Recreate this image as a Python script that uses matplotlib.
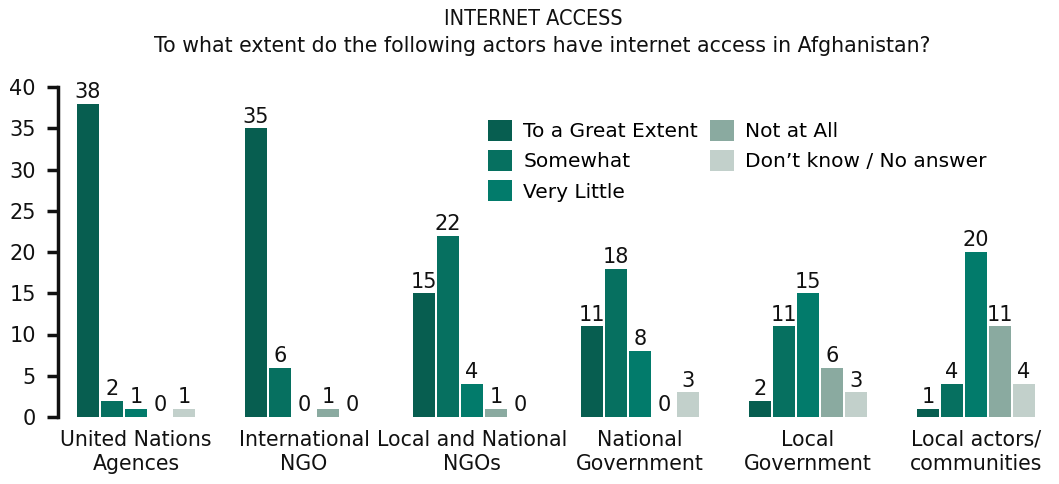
import matplotlib
matplotlib.use("Agg")
import matplotlib.pyplot as plt
import numpy as np
from matplotlib.patches import Patch

plt.rcParams['font.family'] = ['DejaVu Sans']

categories = ["United Nations\nAgences", "International\nNGO", "Local and National\nNGOs",
              "National\nGovernment", "Local\nGovernment", "Local actors/\ncommunities"]
series_names = ["To a Great Extent", "Somewhat", "Very Little", "Not at All",
                "Don\u2019t know / No answer"]
great_extent = [38, 35, 15, 11, 2, 1]
somewhat = [2, 6, 22, 18, 11, 4]
very_little = [1, 0, 4, 8, 15, 20]
not_at_all = [0, 1, 1, 0, 6, 11]
dont_know = [1, 0, 0, 3, 3, 4]
series_values = [great_extent, somewhat, very_little, not_at_all, dont_know]
colors = ["#075e50", "#067060", "#027b6b", "#8aaaa0", "#c2d0cb"]

W, H = 1059, 484
fig = plt.figure(figsize=(W / 100, H / 100), dpi=100)
ax = fig.add_axes([58 / W, (H - 417) / H, (W - 58) / W, (417 - 87) / H])

x = np.arange(len(categories))
bw = 22 / 168
step = 24 / 168
for j, (vals, col) in enumerate(zip(series_values, colors)):
    pos = x + (j - 2) * step
    ax.bar(pos, vals, width=bw, color=col, linewidth=0)
    for p, v in zip(pos, vals):
        ax.text(p, v + 0.2, str(v), ha="center", va="bottom", fontsize=15, color="#111111")

ax.set_xlim(-(136 - 58) / 168, (1059 - 136) / 168)
ax.set_ylim(0, 40)
ax.set_yticks(range(0, 45, 5))
ax.tick_params(axis="y", labelsize=15, width=2.5, length=8, pad=8, colors="#111111")
ax.tick_params(axis="x", length=0, labelsize=14.8, pad=9, colors="#111111")
ax.set_xticks(x)
ax.set_xticklabels(categories, linespacing=1.25)
for s in ["top", "right", "bottom"]:
    ax.spines[s].set_visible(False)
ax.spines["left"].set_linewidth(2.5)
ax.spines["left"].set_color("#111111")

fig.text(533 / W, 1 - 19 / H, "INTERNET ACCESS", ha="center", va="center",
         fontsize=15.5, fontstretch="condensed", color="#111111")
fig.text(542 / W, 1 - 46 / H,
         "To what extent do the following actors have internet access in Afghanistan?",
         ha="center", va="center", fontsize=14.8, color="#111111")

handles = [Patch(facecolor=c, edgecolor="none") for c in colors]
ax.legend(handles, series_names, ncol=2, frameon=False, fontsize=14.5,
          loc="upper left", bbox_to_anchor=(480 / W, 1 - 112 / H),
          bbox_transform=fig.transFigure, handlelength=1.2, handleheight=1.2,
          handletextpad=0.55, columnspacing=0.6, labelspacing=0.45, borderaxespad=0)

fig.savefig("out.png", dpi=100)
